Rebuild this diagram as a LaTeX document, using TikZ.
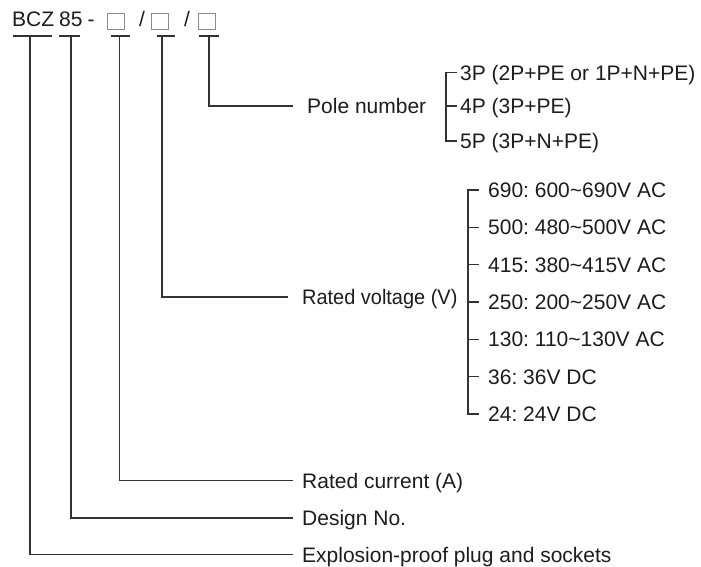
\documentclass[tikz,border=0pt]{standalone}
\usepackage{fontspec}
\setmainfont{Liberation Sans}
\definecolor{textgray}{HTML}{1E1C1D}
\definecolor{linegray}{HTML}{333333}
\definecolor{boxgray}{HTML}{8A8A8A}
\frenchspacing
\begin{document}
\begin{tikzpicture}[x=1pt,y=-1pt,
  txt/.style={font=\fontsize{21}{25}\selectfont, text=textgray, inner sep=0pt,
              text height=15pt, text depth=0pt, anchor=west},
  conn/.style={draw=linegray, line width=1.2pt},
  codebox/.style={draw=boxgray, line width=0.9pt, minimum width=17pt,
              minimum height=16pt, inner sep=0pt}]
\useasboundingbox[fill=white] (0,0) rectangle (701,566);

% code line
\node[txt] (bcz) at (12,18.5) {BCZ};
\node[txt] (n85) at (59,18.5) {85};
\node[txt,anchor=center] (dash) at (91,18.5) {-};
\node[codebox] (b1) at (115.5,21) {};
\node[txt,anchor=center] (sl1) at (142,18.5) {/};
\node[codebox] (b2) at (160,21) {};
\node[txt,anchor=center] (sl2) at (187,18.5) {/};
\node[codebox] (b3) at (206.5,21) {};

% underline anchors
\coordinate (u1) at (30,36);
\coordinate (u2) at (71,36);
\coordinate (u3) at (119.5,36);
\coordinate (u4) at (162,36);
\coordinate (u5) at (209,36);
\draw[conn] ([xshift=-17pt]u1) -- ([xshift=22pt]u1);
\draw[conn] ([xshift=-12pt]u2) -- ([xshift=9pt]u2);
\draw[conn] ([xshift=-9pt]u3) -- ([xshift=10.5pt]u3);
\draw[conn] ([xshift=-5.5pt]u4) -- ([xshift=13pt]u4);
\draw[conn] ([xshift=-10pt]u5) -- ([xshift=9.5pt]u5);

% labels
\node[txt] (pole) at (307,106) {Pole number};
\node[txt] (volt) at (302,297) {\scalebox{0.95}[1]{Rated voltage (V)}};
\node[txt] (curr) at (302,480.5) {Rated current (A)};
\node[txt] (design) at (302,518) {Design No.};
\node[txt] (explo) at (302,554.5) {Explosion-proof plug and sockets};

\draw[conn] (u5) |- ([xshift=-14pt]pole.west);
\draw[conn] (u4) |- ([xshift=-14pt]volt.west);
\draw[conn] (u3) |- ([xshift=-9pt]curr.west);
\draw[conn] (u2) |- ([xshift=-9pt]design.west);
\draw[conn] (u1) |- ([xshift=-9pt]explo.west);

% pole number options
\node[txt] (p1) at (460,72.5) {3P (2P+PE or 1P+N+PE)};
\node[txt] (p2) at (460,106) {4P (3P+PE)};
\node[txt] (p3) at (460,141) {5P (3P+N+PE)};
\draw[conn] ([xshift=-3pt]p1.west) -- ++(-11,0) |- ([xshift=-3pt]p3.west);
\draw[conn] ([xshift=-3pt]p2.west) -- ++(-11,0);

% voltage options
\node[txt] (v1) at (488,190) {690: 600\textasciitilde 690V AC};
\node[txt] (v2) at (488,227.33) {500: 480\textasciitilde 500V AC};
\node[txt] (v3) at (488,264.67) {415: 380\textasciitilde 415V AC};
\node[txt] (v4) at (488,302) {250: 200\textasciitilde 250V AC};
\node[txt] (v5) at (488,339.33) {130: 110\textasciitilde 130V AC};
\node[txt] (v6) at (488,376.67) {36: 36V DC};
\node[txt] (v7) at (488,414) {24: 24V DC};
\draw[conn] ([xshift=-9pt]v1.west) -- ++(-11,0) |- ([xshift=-9pt]v7.west);
\foreach \i in {2,...,6}{
  \draw[conn] ([xshift=-9pt]v\i.west) -- ++(-11,0);
}
\end{tikzpicture}
\end{document}
